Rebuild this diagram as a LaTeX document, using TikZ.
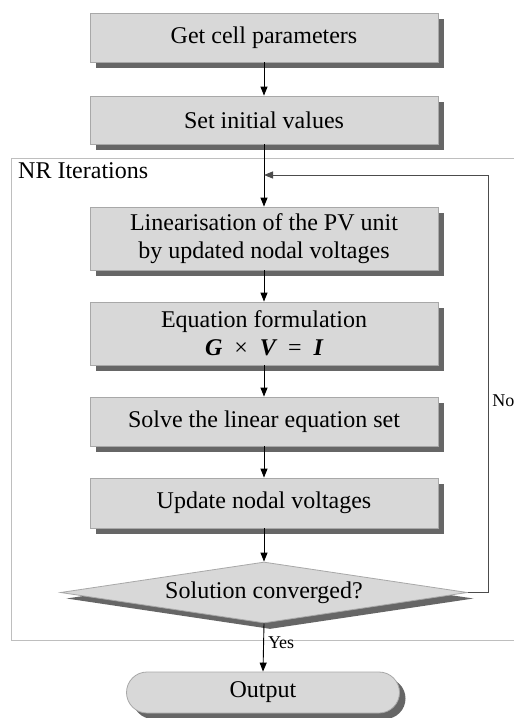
\documentclass[tikz,border=0pt]{standalone}
\usepackage{fontspec}
\setmainfont{Liberation Serif}
\usetikzlibrary{shapes.geometric,shapes.misc,shadows,arrows.meta}
\definecolor{boxfill}{HTML}{D8D8D8}
\definecolor{boxline}{HTML}{A8A8A8}
\definecolor{shade}{HTML}{666666}
\definecolor{frameline}{HTML}{BEBEBE}
\tikzset{
  stepbox/.style={draw=boxline, line width=0.8pt, fill=boxfill, minimum width=348pt,
    inner sep=0pt, align=center, font=\fontsize{24}{28}\selectfont,
    drop shadow={shadow xshift=6pt, shadow yshift=-6pt, fill=shade, opacity=1}},
  decbox/.style={diamond, draw=boxline, line width=0.8pt, fill=boxfill, aspect=6.67,
    minimum width=407pt, minimum height=61pt, inner sep=0pt, font=\fontsize{24}{28}\selectfont,
    drop shadow={shadow xshift=6pt, shadow yshift=-6pt, fill=shade, opacity=1}},
  endbox/.style={rounded rectangle, draw=boxline, line width=0.8pt, fill=boxfill,
    minimum width=273pt, minimum height=41pt, inner sep=0pt, font=\fontsize{24}{28}\selectfont,
    drop shadow={shadow xshift=6pt, shadow yshift=-6pt, fill=shade, opacity=1}},
  flow/.style={line width=0.9pt, -{Triangle[length=9pt,width=7pt]}},
  lbl/.style={font=\fontsize{18}{21}\selectfont, inner sep=0pt},
}
\begin{document}
\begin{tikzpicture}[x=1pt,y=-1pt]
\useasboundingbox (0,0) rectangle (514,718);
\clip (0,0) rectangle (514,718);
\fill[white] (0,0) rectangle (514,718);
% frame
\draw[frameline, line width=0.9pt] (11,158) rectangle (540,640);
\node[anchor=north west, inner sep=0pt, font=\fontsize{24}{28}\selectfont] (nr) at (18,162) {NR Iterations};
% nodes
\node[stepbox, minimum height=49pt] (b1) at (264,37.5) {Get cell parameters};
\node[stepbox, minimum height=48pt] (b2) at (264,120) {Set initial values};
\node[stepbox, minimum height=63pt] (b3) at (264,238.5) {Linearisation of the PV unit\\by updated nodal voltages};
\node[stepbox, minimum height=63pt] (b4) at (264,333.5) {Equation formulation\\{\bfseries\itshape G}~~×~~{\bfseries\itshape V}~~=~~{\bfseries\itshape I}};
\node[stepbox, minimum height=49pt] (b5) at (264,421.5) {Solve the linear equation set};
\node[stepbox, minimum height=50pt] (b6) at (264,503) {Update nodal voltages};
\node[decbox] (d) at (264,592.5) {Solution converged?};
\node[endbox] (out) at (263,692.5) {Output};
\coordinate (join) at (264,175);
\coordinate (fb) at (488,175);
% connectors
\draw[flow] (b1.south) -- (b2.north);
\draw[flow] (b2.south) -- (b3.north);
\draw[flow] (b3.south) -- (b4.north);
\draw[flow] (b4.south) -- (b5.north);
\draw[flow] (b5.south) -- (b6.north);
\draw[flow] (b6.south) -- (d.north);
\draw[flow] (d.south) -- node[lbl, right=4pt, pos=0.4] {Yes} (out.north);
\draw[line width=0.9pt, black!70] (d.east) -| (fb) node[lbl, black, pos=0.73, right=4pt] {No};
\draw[flow, black!70] (fb) -- (join);
\end{tikzpicture}
\end{document}
